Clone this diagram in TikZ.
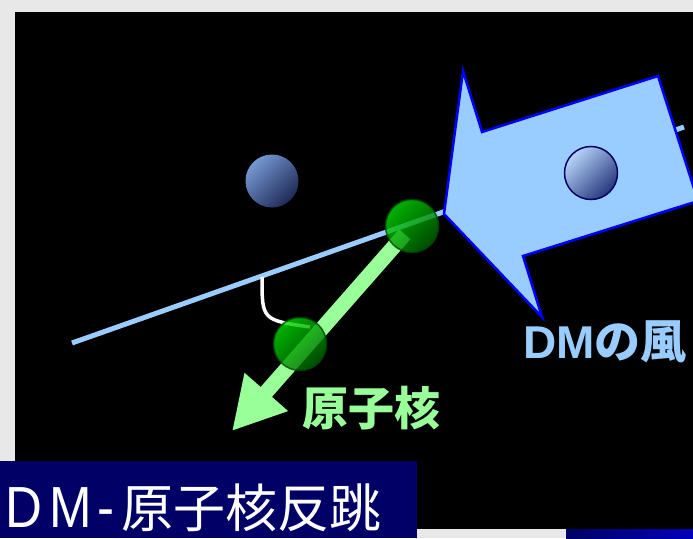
\documentclass[tikz,border=0pt]{standalone}
\usepackage{fontspec}
\newfontfamily\jp{Noto Sans CJK JP}
\newfontfamily\lat{Liberation Sans}
\newfontfamily\latnarrow[FakeStretch=0.88]{Liberation Sans}
\usetikzlibrary{arrows.meta}
\definecolor{paper}{RGB}{232,232,232}
\definecolor{navy}{RGB}{0,0,102}
\definecolor{wind}{RGB}{153,204,255}
\definecolor{recoil}{RGB}{153,255,153}
\definecolor{nuclight}{RGB}{0,220,0}
\definecolor{nucdeep}{RGB}{0,95,0}
\definecolor{nucdark}{RGB}{0,70,0}
\definecolor{dmlight}{RGB}{118,152,210}
\definecolor{dmdeep}{RGB}{30,42,86}
\definecolor{dmpale}{RGB}{182,212,250}
\definecolor{dmmid}{RGB}{38,54,124}

\begin{document}
\begin{tikzpicture}[x=1pt, y=-1pt,
  dm/.style 2 args={circle, minimum size=53pt, inner sep=0pt,
    top color=#1, bottom color=#2, shading angle=45},
  nucleus/.style={circle, minimum size=53pt, inner sep=0pt, draw=nucdark, line width=1.5pt,
    top color=nuclight, bottom color=nucdeep, shading angle=45, opacity=0.8},
  label/.style={inner sep=0pt, font=\jp\bfseries\fontsize{46}{46}\selectfont}]
\useasboundingbox (0,0) rectangle (693,538);
\clip (0,0) rectangle (693,538);
% slide background
\fill [paper] (0,0) rectangle (693,538);
\fill [black] (15,12) rectangle (693,529);
\fill [navy] (0,461) rectangle (417,538);
\shade [left color=navy, right color={rgb,255:red,0;green,0;blue,185}] (566,529) rectangle (693,538);
% line of the incoming DM
\coordinate (lineL) at (72,343);
\coordinate (lineR) at (684,127);
\draw [wind, line width=5pt] (lineL) -- (lineR);
% the wind
\draw [fill=wind, draw=blue, line width=2.5pt] (444,214) -- (463,71) -- (482,132) -- (658,76)
  -- (698,201) -- (523,256) -- (542,317) -- cycle;
\node [dm={dmpale}{dmmid}, draw=navy, line width=1.5pt] (dm2) at (591,173) {};
\node [dm={dmlight}{dmdeep}] (dm1) at (272,181) {};
% recoil angle
\coordinate (ang1) at (262,277);
\coordinate (ang2) at (310,327);
\draw [white, line width=3.5pt] (ang1) .. controls (262,320) .. (ang2);
% recoiling nucleus
\coordinate (hit) at (412,226);
\coordinate (kick) at (232,431);
\draw [recoil, line width=15pt, shorten <=11pt, -{Triangle[length=52pt, width=54pt]}] (hit) -- (kick);
\node [nucleus] (nuc1) at (hit) {};
\node [nucleus] (nuc2) at (300,344) {};
% labels
\node [label, recoil] (nuclbl) at (371,408) {原子核};
\node [label, wind] (windlbl) at (605,342) {{\lat DM}の風};
\node [white, anchor=base west, inner sep=0pt, font=\jp\fontsize{52}{52}\selectfont] (title) at (5,527.5)
  {{\latnarrow\fontsize{58}{58}\selectfont D\kern7pt M\kern6pt -\kern7pt}原子核反跳};
\end{tikzpicture}
\end{document}
